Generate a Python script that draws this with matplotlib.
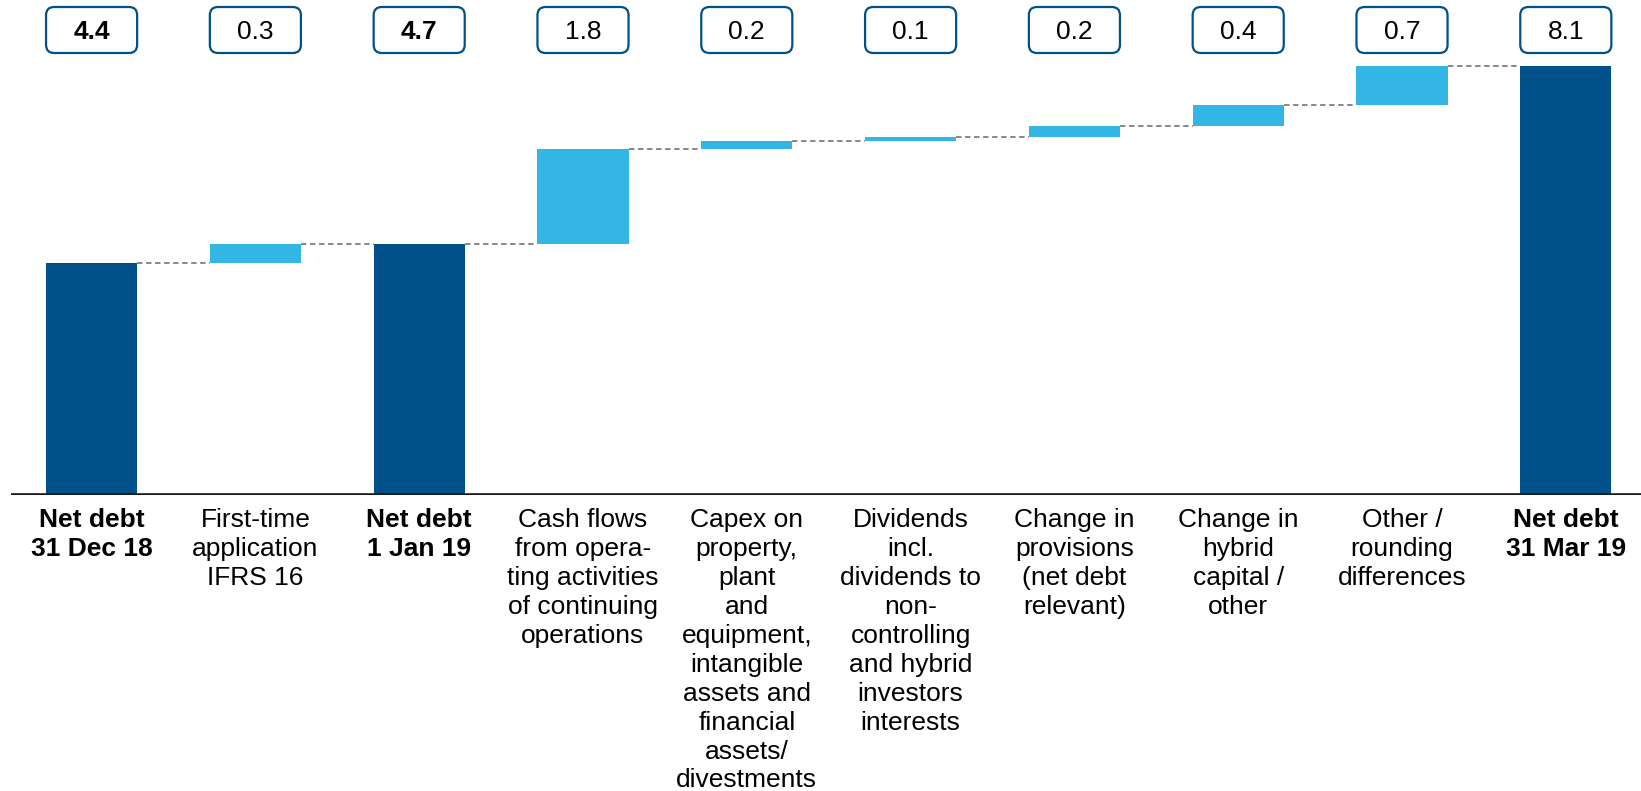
import matplotlib.pyplot as plt
from matplotlib.patches import FancyBboxPatch
import matplotlib.transforms as mtransforms

plt.rcParams['font.family'] = ['Liberation Sans', 'DejaVu Sans']

# net debt bridge, bn EUR
categories = ["Net debt\n31 Dec 18", "First-time\napplication\nIFRS 16", "Net debt\n1 Jan 19",
              "Cash flows\nfrom opera-\nting activities\nof continuing\noperations",
              "Capex on\nproperty,\nplant\nand\nequipment,\nintangible\nassets and\nfinancial\nassets/\ndivestments",
              "Dividends\nincl.\ndividends to\nnon-\ncontrolling\nand hybrid\ninvestors\ninterests",
              "Change in\nprovisions\n(net debt\nrelevant)", "Change in\nhybrid\ncapital /\nother",
              "Other /\nrounding\ndifferences", "Net debt\n31 Mar 19"]
values = [4.38, 0.36, 4.74, 1.78, 0.16, 0.08, 0.20, 0.39, 0.75, 8.09]
is_total = [True, False, True, False, False, False, False, False, False, True]
value_labels = ["4.4", "0.3", "4.7", "1.8", "0.2", "0.1", "0.2", "0.4", "0.7", "8.1"]
value_bold = [True, False, True, False, False, False, False, False, False, False]

DARK = '#00508A'
LIGHT = '#33B5E5'
W = 0.556

fig = plt.figure(figsize=(16.41, 7.91), dpi=100)
ax = fig.add_axes([0.0064, 1 - 495 / 791, 0.9936, 495 / 791])
ax.set_xlim(-0.495, 9.459)
ax.set_ylim(0, 495 / 53.0)
ax.axis('off')

bottoms, tops = [], []
level = 0.0
for v, tot in zip(values, is_total):
    if tot:
        bottoms.append(0.0)
        level = v
    else:
        bottoms.append(level)
        level += v
    tops.append(bottoms[-1] + v)

xs = list(range(len(values)))
ax.bar(xs, values, bottom=bottoms, width=W,
       color=[DARK if t else LIGHT for t in is_total], zorder=2)

# dashed connectors
for i in range(len(values) - 1):
    ax.plot([i + W / 2, i + 1 - W / 2], [tops[i], tops[i]],
            color='#7F7F7F', lw=1.3, ls=(0, (3, 2)), zorder=1)

# baseline
ax.axhline(0, color='#1A1A1A', lw=2.6, zorder=3)

# value boxes on top
box_y = (495 - 30) / 53.0
box_h = 46 / 53.0
for i, (lab, b) in enumerate(zip(value_labels, value_bold)):
    p = FancyBboxPatch((i - W / 2, box_y - box_h / 2), W, box_h,
                       boxstyle="round,pad=0,rounding_size=0.05",
                       mutation_aspect=163.8 / 53.0,
                       fc='white', ec=DARK, lw=1.6, clip_on=False)
    ax.add_patch(p)
    ax.text(i, box_y - 0.04, lab, ha='center', va='center', fontsize=19,
            fontweight='bold' if b else 'normal', color='black')

# category labels
trans = mtransforms.blended_transform_factory(ax.transData, ax.transAxes)
for i, (lab, tot) in enumerate(zip(categories, is_total)):
    ax.text(i, -13 / 495, lab, transform=trans, ha='center', va='top',
            fontsize=19, linespacing=1.26,
            fontweight='bold' if tot else 'normal', color='black')

fig.savefig('out.png', dpi=100)
